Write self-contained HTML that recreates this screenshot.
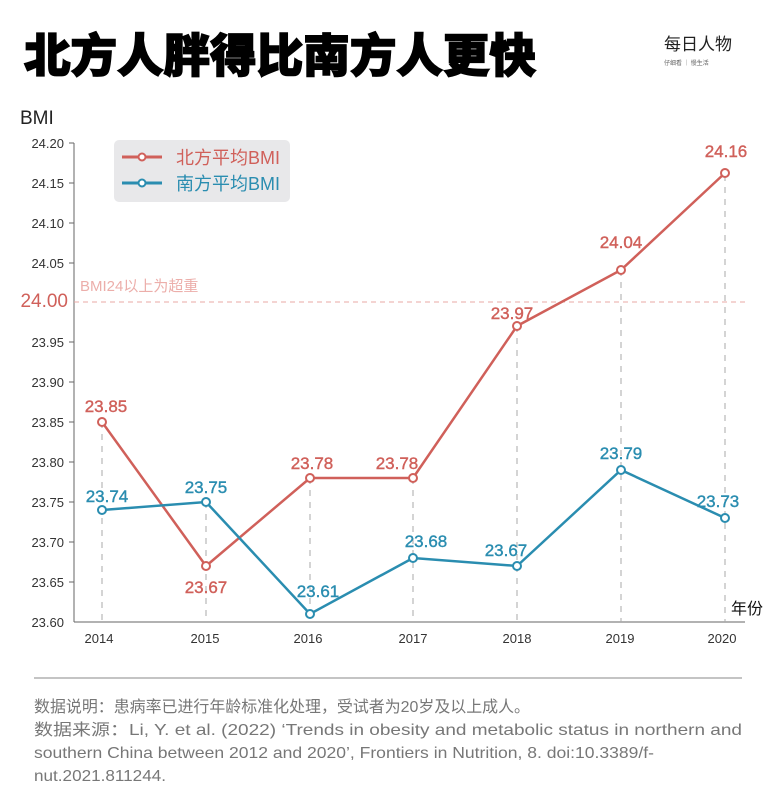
<!DOCTYPE html>
<html><head><meta charset="utf-8"><style>
body{margin:0;background:#fff;width:782px;height:800px;overflow:hidden;font-family:"Liberation Sans","Noto Sans CJK SC",sans-serif}
</style></head><body>
<svg width="782" height="800" xmlns="http://www.w3.org/2000/svg" font-family="Liberation Sans, Noto Sans CJK SC, sans-serif">
<text x="24" y="72" font-size="46" font-weight="900" fill="#000" stroke="#000" stroke-width="1.5" font-family="Noto Sans CJK SC, sans-serif" textLength="512" lengthAdjust="spacingAndGlyphs">北方人胖得比南方人更快</text>
<text x="664" y="50" font-size="17" fill="#222" font-family="Noto Sans CJK SC, sans-serif">每日人物</text>
<text x="664" y="65" font-size="6" fill="#666" font-family="Noto Sans CJK SC, sans-serif">仔细看 ｜ 慢生活</text>
<text x="20" y="124" font-size="19" fill="#222">BMI</text>
<g font-size="13" fill="#333" text-anchor="end">
<text x="64" y="148">24.20</text><text x="64" y="188">24.15</text><text x="64" y="228">24.10</text><text x="64" y="268">24.05</text>
<text x="64" y="347">23.95</text><text x="64" y="387">23.90</text><text x="64" y="427">23.85</text><text x="64" y="467">23.80</text><text x="64" y="507">23.75</text><text x="64" y="547">23.70</text><text x="64" y="587">23.65</text><text x="64" y="627">23.60</text>
</g>
<text x="68" y="307" font-size="19" fill="#d0605a" text-anchor="end">24.00</text>
<g stroke="#666" stroke-width="1">
<line x1="74" y1="143" x2="74" y2="622"/><line x1="74" y1="622" x2="745" y2="622"/>
<line x1="69" y1="143" x2="74" y2="143"/><line x1="69" y1="183" x2="74" y2="183"/><line x1="69" y1="223" x2="74" y2="223"/><line x1="69" y1="263" x2="74" y2="263"/><line x1="69" y1="342" x2="74" y2="342"/><line x1="69" y1="382" x2="74" y2="382"/><line x1="69" y1="422" x2="74" y2="422"/><line x1="69" y1="462" x2="74" y2="462"/><line x1="69" y1="502" x2="74" y2="502"/><line x1="69" y1="542" x2="74" y2="542"/><line x1="69" y1="582" x2="74" y2="582"/>
</g>
<line x1="74" y1="302" x2="745" y2="302" stroke="#e8a8a4" stroke-dasharray="5,4"/>
<text x="80" y="291" font-size="15" fill="#ecaeaa">BMI24以上为超重</text>
<g stroke="#aaa" stroke-dasharray="6,6">
<line x1="102" y1="422" x2="102" y2="622"/><line x1="206" y1="502" x2="206" y2="622"/><line x1="310" y1="478" x2="310" y2="622"/><line x1="413" y1="478" x2="413" y2="622"/><line x1="517" y1="326" x2="517" y2="622"/><line x1="621" y1="270" x2="621" y2="622"/><line x1="725" y1="175" x2="725" y2="622"/>
</g>
<g font-size="13" fill="#333" text-anchor="middle">
<text x="99" y="643">2014</text><text x="205" y="643">2015</text><text x="308" y="643">2016</text><text x="413" y="643">2017</text><text x="517" y="643">2018</text><text x="620" y="643">2019</text><text x="722" y="643">2020</text>
</g>
<text x="731" y="614" font-size="16" fill="#111" font-family="Noto Sans CJK SC, sans-serif">年份</text>
<rect x="114" y="140" width="176" height="62" rx="5" fill="#e8e8ea"/>
<line x1="122" y1="157" x2="162" y2="157" stroke="#d0605a" stroke-width="3"/><circle cx="142" cy="157" r="3.5" fill="#fff" stroke="#d0605a" stroke-width="2"/>
<text x="176" y="164" font-size="18" fill="#d0605a">北方平均BMI</text>
<line x1="122" y1="183" x2="162" y2="183" stroke="#2a8db0" stroke-width="3"/><circle cx="142" cy="183" r="3.5" fill="#fff" stroke="#2a8db0" stroke-width="2"/>
<text x="176" y="190" font-size="18" fill="#2a8db0">南方平均BMI</text>
<polyline fill="none" stroke="#d0605a" stroke-width="2.5" points="102,422 206,566 310,478 413,478 517,326 621,270 725,173"/>
<polyline fill="none" stroke="#2a8db0" stroke-width="2.5" points="102,510 206,502 310,614 413,558 517,566 621,470 725,518"/>
<g fill="#fff" stroke-width="2">
<g stroke="#d0605a"><circle cx="102" cy="422" r="4"/><circle cx="206" cy="566" r="4"/><circle cx="310" cy="478" r="4"/><circle cx="413" cy="478" r="4"/><circle cx="517" cy="326" r="4"/><circle cx="621" cy="270" r="4"/><circle cx="725" cy="173" r="4"/></g>
<g stroke="#2a8db0"><circle cx="102" cy="510" r="4"/><circle cx="206" cy="502" r="4"/><circle cx="310" cy="614" r="4"/><circle cx="413" cy="558" r="4"/><circle cx="517" cy="566" r="4"/><circle cx="621" cy="470" r="4"/><circle cx="725" cy="518" r="4"/></g>
</g>
<g font-size="17" text-anchor="middle" fill="#d0605a" stroke="#d0605a" stroke-width="0.4">
<text x="106" y="412">23.85</text><text x="206" y="593">23.67</text><text x="312" y="469">23.78</text><text x="397" y="469">23.78</text><text x="512" y="319">23.97</text><text x="621" y="248">24.04</text><text x="726" y="157">24.16</text>
</g>
<g font-size="17" text-anchor="middle" fill="#2a8db0" stroke="#2a8db0" stroke-width="0.4">
<text x="107" y="502">23.74</text><text x="206" y="493">23.75</text><text x="318" y="597">23.61</text><text x="426" y="547">23.68</text><text x="506" y="556">23.67</text><text x="621" y="459">23.79</text><text x="718" y="507">23.73</text>
</g>
<line x1="34" y1="678" x2="742" y2="678" stroke="#888" stroke-width="1"/>
<g font-size="16" fill="#777">
<text x="34" y="712" textLength="496" lengthAdjust="spacingAndGlyphs">数据说明：患病率已进行年龄标准化处理，受试者为20岁及以上成人。</text>
<text x="34" y="735" textLength="708" lengthAdjust="spacingAndGlyphs">数据来源：Li, Y. et al. (2022) ‘Trends in obesity and metabolic status in northern and</text>
<text x="34" y="758" textLength="620" lengthAdjust="spacingAndGlyphs">southern China between 2012 and 2020’, Frontiers in Nutrition, 8. doi:10.3389/f-</text>
<text x="34" y="781" textLength="132" lengthAdjust="spacingAndGlyphs">nut.2021.811244.</text>
</g>
</svg>
</body></html>
